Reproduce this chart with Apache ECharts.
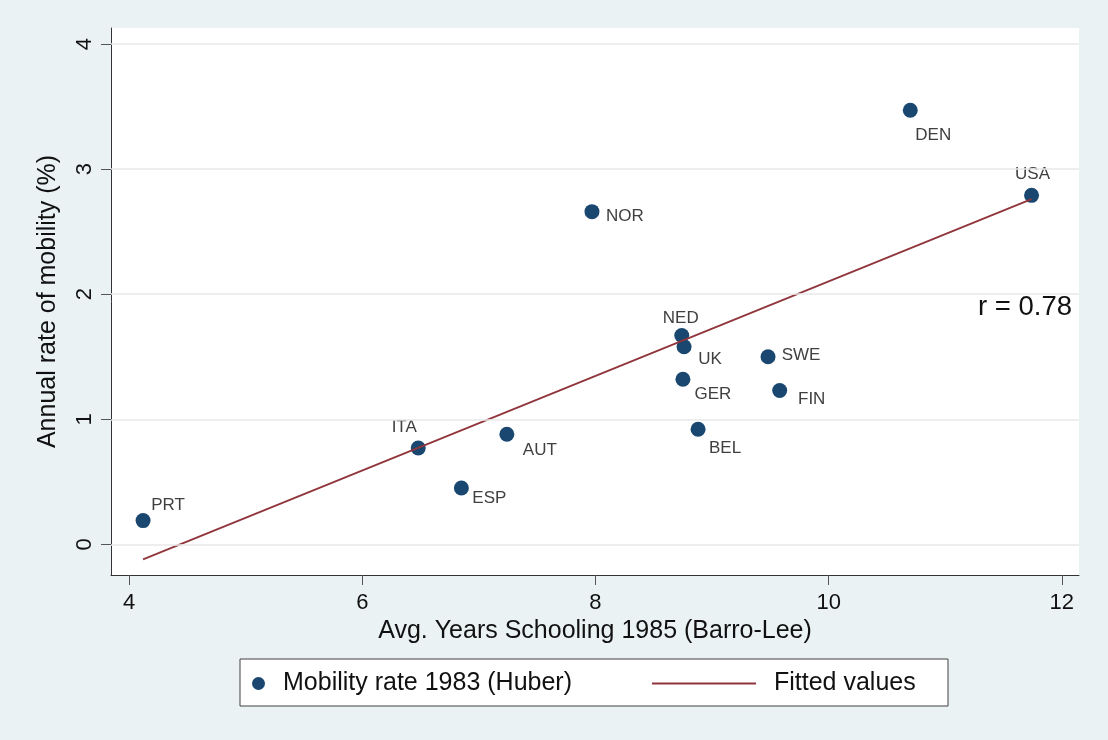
<!DOCTYPE html>
<html>
<head>
<meta charset="utf-8">
<script src="https://cdn.jsdelivr.net/npm/echarts@6/dist/echarts.min.js"></script>
<style>
  html, body { margin: 0; padding: 0; background: #EAF2F3; }
  #chart { width: 1108px; height: 740px; }
</style>
</head>
<body>
<div id="chart"></div>
<script>
// ---- data ----
const countries = ['PRT','ITA','ESP','AUT','NOR','NED','UK','GER','BEL','SWE','FIN','DEN','USA'];
const schooling = [4.12, 6.48, 6.85, 7.24, 7.97, 8.74, 8.76, 8.75, 8.88, 9.48, 9.58, 10.70, 11.74];
const mobility  = [0.19, 0.77, 0.45, 0.88, 2.66, 1.67, 1.58, 1.32, 0.92, 1.50, 1.23, 3.47, 2.79];
const fitX = [4.12, 11.74];
const fitY = [-0.12, 2.76];
const xTicks = [4, 6, 8, 10, 12];
const yTicks = [0, 1, 2, 3, 4];
const seriesNames = ['Mobility rate 1983 (Huber)', 'Fitted values'];
const corrText = 'r = 0.78';

// ---- label placement (style, per point: offset of text centre from marker) ----
const labelOffsets = {
  PRT: [25, -15], ITA: [-14, -21], ESP: [28, 10], AUT: [33, 16], NOR: [33, 5],
  NED: [-1, -17], UK: [26, 13], GER: [30, 15], BEL: [27, 19], SWE: [33, -1],
  FIN: [32, 9], DEN: [23, 25], USA: [1, -21]
};

const FONT = '"Liberation Sans", Arial, Helvetica, sans-serif';

const scatterData = countries.map((c, i) => ({
  name: c,
  value: [schooling[i], mobility[i]],
  label: { offset: labelOffsets[c] }
}));
const fitData = fitX.map((x, i) => [x, fitY[i]]);

const chart = echarts.init(document.getElementById('chart'), null, { renderer: 'canvas' });
chart.setOption({
  backgroundColor: '#EAF2F3',
  animation: false,
  textStyle: { fontFamily: FONT },
  grid: {
    left: 111, right: 29, top: 28, bottom: 165,
    show: true, backgroundColor: '#FFFFFF', borderWidth: 0
  },
  xAxis: {
    type: 'value',
    min: 3.845, max: 12.147,
    name: 'Avg. Years Schooling 1985 (Barro-Lee)',
    nameLocation: 'middle',
    nameGap: 35,
    nameTextStyle: { fontSize: 25, color: '#111', fontFamily: FONT },
    axisLine: { show: true, onZero: false, lineStyle: { color: '#333', width: 1 } },
    axisTick: { show: true, length: 10, customValues: xTicks, lineStyle: { color: '#555' } },
    axisLabel: { customValues: xTicks, fontSize: 22, color: '#111', margin: 17, fontFamily: FONT },
    splitLine: { show: false }
  },
  yAxis: {
    type: 'value',
    min: -0.245, max: 4.128,
    name: 'Annual rate of mobility (%)',
    nameLocation: 'middle',
    nameGap: 50,
    nameTextStyle: { fontSize: 25, color: '#111', fontFamily: FONT },
    axisLine: { show: true, onZero: false, lineStyle: { color: '#333', width: 1 } },
    axisTick: { show: true, length: 10, customValues: yTicks, lineStyle: { color: '#555' } },
    axisLabel: { customValues: yTicks, rotate: 90, fontSize: 22, color: '#111', margin: 15, fontFamily: FONT },
    splitLine: { show: false }
  },
  legend: [
    {
      data: [seriesNames[0]],
      left: 247, top: 666,
      itemWidth: 13, itemHeight: 13,
      icon: 'circle',
      textStyle: { fontSize: 25, color: '#111', fontFamily: FONT, padding: [0, 0, 0, 13] },
      selectedMode: false
    },
    {
      data: [{ name: seriesNames[1], icon: 'rect' }],
      left: 647, top: 666,
      itemWidth: 104, itemHeight: 2,
      textStyle: { fontSize: 25, color: '#111', fontFamily: FONT, padding: [0, 0, 0, 13] },
      selectedMode: false
    }
  ],
  graphic: [
    {
      type: 'rect',
      z: 0,
      shape: { x: 240, y: 659, width: 708, height: 47 },
      style: { fill: '#FFFFFF', stroke: '#404040', lineWidth: 1 }
    },
    {
      type: 'text',
      z: 10,
      x: 1072, y: 307,
      style: {
        text: corrText,
        fill: '#111',
        font: '27.5px ' + FONT,
        align: 'right',
        verticalAlign: 'middle'
      }
    }
  ],
  series: [
    {
      name: seriesNames[0],
      type: 'scatter',
      symbol: 'circle',
      symbolSize: 15,
      itemStyle: { color: '#1A476F', opacity: 1 },
      label: {
        show: true,
        position: 'inside',
        formatter: p => p.name,
        color: '#404040',
        fontSize: 17,
        fontFamily: FONT
      },
      data: scatterData,
      markLine: {
        silent: true,
        symbol: 'none',
        label: { show: false },
        lineStyle: { color: '#E8E8E8', width: 1.5, type: 'solid' },
        data: yTicks.map(v => ({ yAxis: v }))
      },
      z: 2
    },
    {
      name: seriesNames[1],
      type: 'line',
      symbol: 'none',
      showSymbol: false,
      lineStyle: { color: '#90353B', width: 1.8 },
      itemStyle: { color: '#90353B' },
      data: fitData,
      z: 3
    }
  ]
});
</script>
</body>
</html>
